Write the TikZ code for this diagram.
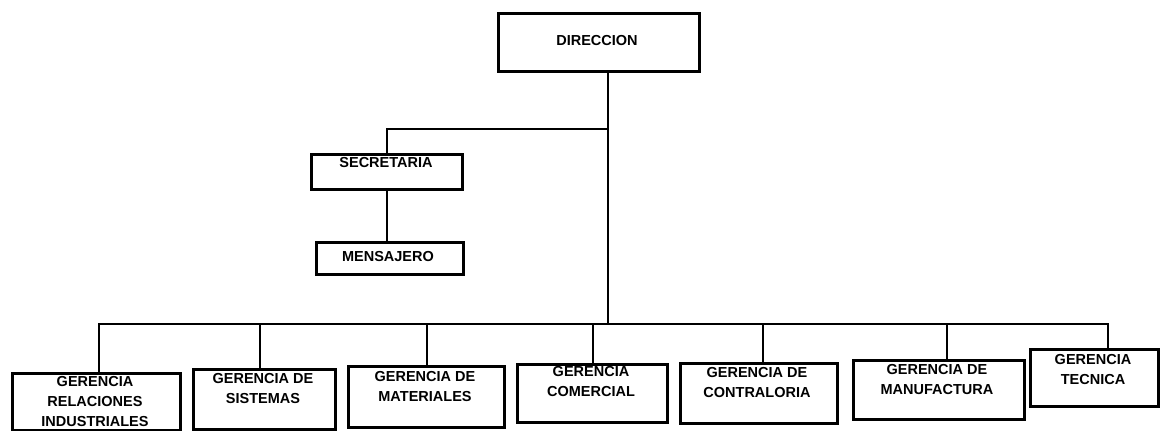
\documentclass[tikz,border=0pt]{standalone}
\usepackage{fontspec}
\setmainfont{Liberation Sans}
\begin{document}
\begin{tikzpicture}[x=1pt,y=-1pt,
  box/.style={draw,line width=2.7pt,inner sep=0pt,anchor=north west},
  lbl/.style={font=\fontsize{14.5}{20}\selectfont\bfseries,align=center,inner sep=0pt},
  conn/.style={line width=2.5pt}]
\useasboundingbox (0,0) rectangle (1162,431);
% boxes: (x1,y1) width height
\node[box,minimum width=201pt,minimum height=58pt] (dir) at (497,12) {};
\node[box,minimum width=151pt,minimum height=35pt] (sec) at (310,153) {};
\node[box,minimum width=147pt,minimum height=32pt] (men) at (315,241) {};
\node[box,minimum width=168pt,minimum height=57pt] (g1) at (11,372) {};
\node[box,minimum width=142pt,minimum height=60pt] (g2) at (192,368) {};
\node[box,minimum width=156pt,minimum height=61pt] (g3) at (347,365) {};
\node[box,minimum width=150pt,minimum height=58pt] (g4) at (516,363) {};
\node[box,minimum width=157pt,minimum height=60pt] (g5) at (679,362) {};
\node[box,minimum width=171pt,minimum height=59pt] (g6) at (852,359) {};
\node[box,minimum width=128pt,minimum height=57pt] (g7) at (1029,348) {};
% texts
\node[lbl] (tdir) at (597,41) {DIRECCION};
\node[lbl] (tsec) at (386,163) {SECRETARIA};
\node[lbl] (tmen) at (388,257) {MENSAJERO};
\node[lbl] (t1) at (95,402) {GERENCIA\\RELACIONES\\INDUSTRIALES};
\node[lbl] (t2) at (263,389) {GERENCIA DE\\SISTEMAS};
\node[lbl] (t3) at (425,387) {GERENCIA DE\\MATERIALES};
\node[lbl] (t4) at (591,382) {GERENCIA\\COMERCIAL};
\node[lbl] (t5) at (757,383) {GERENCIA DE\\CONTRALORIA};
\node[lbl] (t6) at (937,380) {GERENCIA DE\\MANUFACTURA};
\node[lbl] (t7) at (1093,370) {GERENCIA\\TECNICA};
% connectors
\coordinate (j0) at (608,129);
\coordinate (bm) at (608,324);
\coordinate (d1) at (99,324);
\coordinate (d2) at (260,324);
\coordinate (d3) at (427,324);
\coordinate (d4) at (593,324);
\coordinate (d5) at (763,324);
\coordinate (d6) at (947,324);
\coordinate (d7) at (1108,324);
\draw[conn] (dir.south -| j0) -- (bm);
\draw[conn] (j0) -| (sec.north);
\draw[conn] (sec.south) -- (sec.south |- men.north);
\draw[conn,line cap=rect] (d1) -- (d7);
\foreach \i in {1,...,7}{\draw[conn] (d\i) -- (d\i |- g\i.north);}
\end{tikzpicture}
\end{document}
